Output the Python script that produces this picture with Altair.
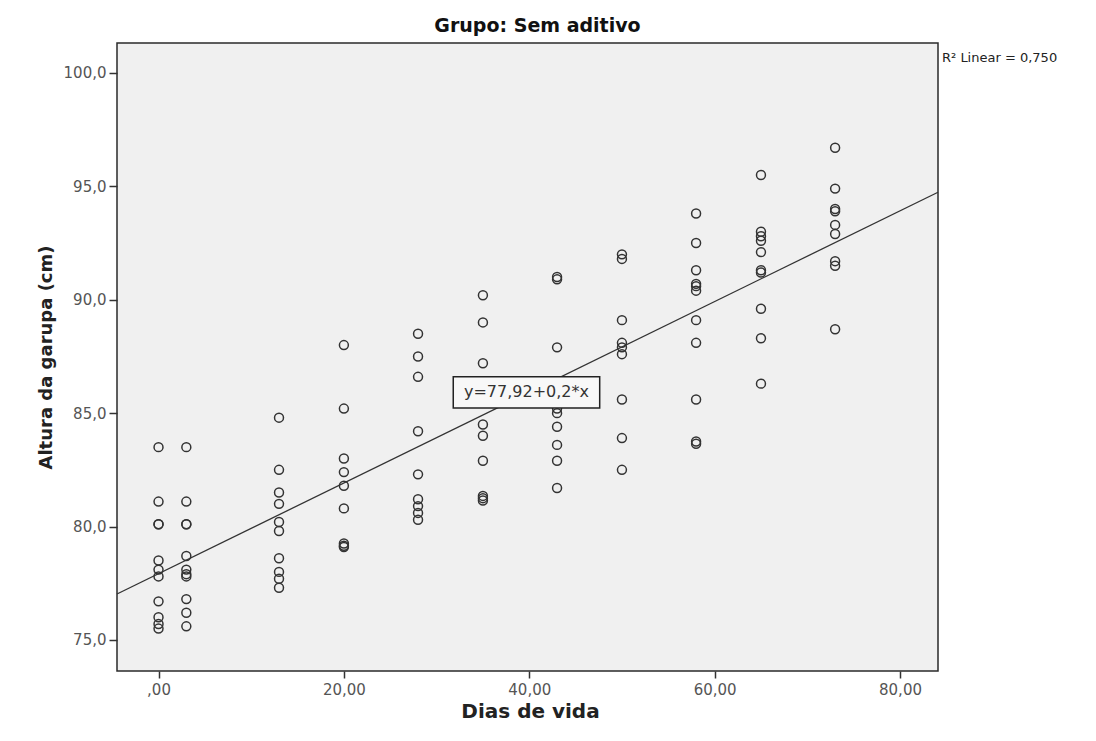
import altair as alt
import pandas as pd

# ---- data ----
DAYS = [0, 3, 13, 20, 28, 35, 43, 50, 58, 65, 73]
H_D0 = [83.5, 81.1, 80.1, 80.1, 78.5, 78.1, 77.8, 76.7, 76.0, 75.7, 75.5]
H_D3 = [83.5, 81.1, 80.1, 80.1, 78.7, 78.1, 77.9, 77.8, 76.8, 76.2, 75.6]
H_D13 = [84.8, 82.5, 81.5, 81.0, 80.2, 79.8, 78.6, 78.0, 77.7, 77.3]
H_D20 = [88.0, 85.2, 83.0, 82.4, 81.8, 80.8, 79.25, 79.15, 79.1]
H_D28 = [88.5, 87.5, 86.6, 84.2, 82.3, 81.2, 80.9, 80.6, 80.3]
H_D35 = [90.2, 89.0, 87.2, 84.5, 84.0, 82.9, 81.35, 81.25, 81.15]
H_D43 = [91.0, 90.9, 87.9, 85.2, 85.0, 84.4, 83.6, 82.9, 81.7]
H_D50 = [92.0, 91.8, 89.1, 88.1, 87.9, 87.6, 85.6, 83.9, 82.5]
H_D58 = [93.8, 92.5, 91.3, 90.7, 90.6, 90.4, 89.1, 88.1, 85.6, 83.75, 83.65]
H_D65 = [95.5, 93.0, 92.8, 92.6, 92.1, 91.3, 91.2, 89.6, 88.3, 86.3]
H_D73 = [96.7, 94.9, 94.0, 93.9, 93.3, 92.9, 91.7, 91.5, 88.7]
GROUPS = [H_D0, H_D3, H_D13, H_D20, H_D28, H_D35, H_D43, H_D50, H_D58, H_D65, H_D73]

INTERCEPT = 77.92
SLOPE = 0.2
X_DOMAIN = [-4.48, 84.1]
Y_DOMAIN = [73.63, 101.32]
X_TICKS = [0, 20, 40, 60, 80]
Y_TICKS = [75, 80, 85, 90, 95, 100]

EQ_LABEL = "y=77,92+0,2*x"
EQ_BOX_X = [31.8, 47.6]
EQ_BOX_Y = [85.23, 86.6]
R2_LABEL = "R² Linear = 0,750"

rows = [{"dias": d, "altura": h} for d, hs in zip(DAYS, GROUPS) for h in hs]
df = pd.DataFrame(rows)
line_df = pd.DataFrame({"dias": X_DOMAIN,
                        "altura": [INTERCEPT + SLOPE * x for x in X_DOMAIN]})
box_df = pd.DataFrame({"x1": [EQ_BOX_X[0]], "x2": [EQ_BOX_X[1]],
                       "y1": [EQ_BOX_Y[0]], "y2": [EQ_BOX_Y[1]],
                       "xc": [(EQ_BOX_X[0] + EQ_BOX_X[1]) / 2],
                       "yc": [(EQ_BOX_Y[0] + EQ_BOX_Y[1]) / 2],
                       "label": [EQ_LABEL]})

FONT = "DejaVu Sans"

x_scale = alt.Scale(domain=X_DOMAIN, nice=False, zero=False)
y_scale = alt.Scale(domain=Y_DOMAIN, nice=False, zero=False)

x_axis = alt.Axis(
    values=X_TICKS,
    labelExpr="datum.value == 0 ? ',00' : replace(format(datum.value, '.2f'), '.', ',')",
    grid=False, domain=False, tickSize=7, tickWidth=1.5, tickColor="#333",
    labelFont=FONT, labelFontSize=15, labelColor="#555", labelPadding=4,
    title="Dias de vida", titleFont=FONT, titleFontSize=20, titleFontWeight="bold",
    titleColor="#222", titleX=413, titleY=40, titleBaseline="middle", titleAlign="center",
)
y_axis = alt.Axis(
    values=Y_TICKS,
    labelExpr="replace(format(datum.value, '.1f'), '.', ',')",
    grid=False, domain=False, tickSize=8, tickWidth=1.5, tickColor="#333",
    labelFont=FONT, labelFontSize=15, labelColor="#555", labelPadding=3,
    title="Altura da garupa (cm)", titleFont=FONT, titleFontSize=18, titleFontWeight="bold",
    titleColor="#222", titleX=-71, titleY=314, titleAngle=-90,
    titleBaseline="middle", titleAlign="center",
)

points = alt.Chart(df).mark_point(
    shape="circle", filled=False, size=80, strokeWidth=1.5, color="#333", opacity=1
).encode(
    x=alt.X("dias:Q", scale=x_scale, axis=x_axis),
    y=alt.Y("altura:Q", scale=y_scale, axis=y_axis),
)

fit = alt.Chart(line_df).mark_line(color="#333", strokeWidth=1.3).encode(
    x=alt.X("dias:Q", scale=x_scale),
    y=alt.Y("altura:Q", scale=y_scale),
)

box = alt.Chart(box_df).mark_rect(fill="#f8f8f8", stroke="#222", strokeWidth=1.5).encode(
    x=alt.X("x1:Q", scale=x_scale), x2="x2:Q",
    y=alt.Y("y1:Q", scale=y_scale), y2="y2:Q",
)
eq_text = alt.Chart(box_df).mark_text(
    font=FONT, fontSize=16, color="#333", align="center", baseline="middle"
).encode(
    x=alt.X("xc:Q", scale=x_scale),
    y=alt.Y("yc:Q", scale=y_scale),
    text="label:N",
)

r2_text = alt.Chart(pd.DataFrame({"label": [R2_LABEL]})).mark_text(
    font=FONT, fontSize=13, color="#222", align="left", baseline="middle"
).encode(
    x=alt.value(825), y=alt.value(15), text="label:N"
)

chart = alt.layer(fit, points, box, eq_text, r2_text).properties(
    width=821, height=628,
    background="white",
    autosize=alt.AutoSizeParams(type="none"),
    padding={"left": 117, "top": 43, "right": 158, "bottom": 70},
    title=alt.Title("Grupo: Sem aditivo", font=FONT, fontSize=19, fontWeight="bold",
                    color="#111", anchor="middle", offset=-8, baseline="alphabetic", dx=10),
).configure_view(
    fill="#f0f0f0", stroke="#2a2a2a", strokeWidth=1.5
)

chart.save("out.html", embed_options={"renderer": "svg", "actions": False})
